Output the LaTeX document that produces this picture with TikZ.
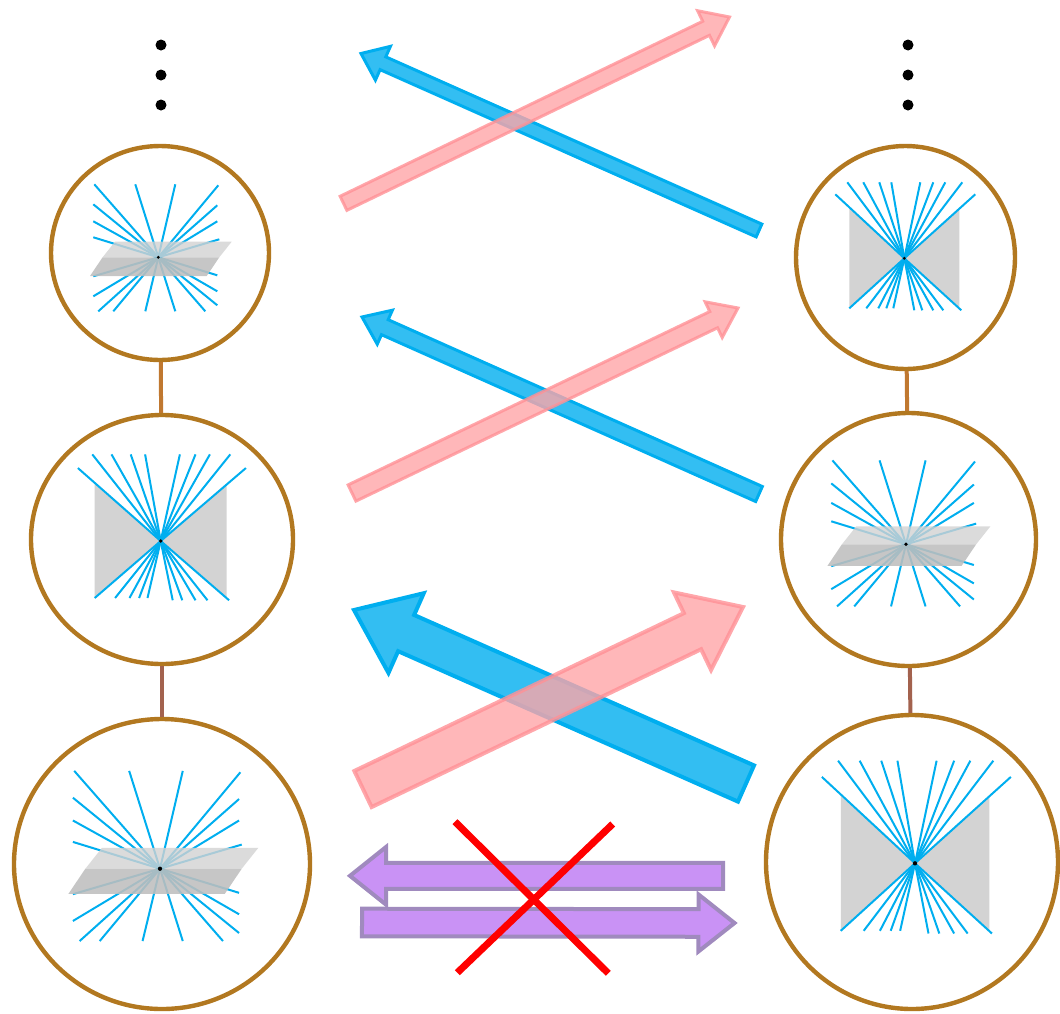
\documentclass[tikz,border=0pt]{standalone}
\usetikzlibrary{calc,shapes.geometric}

\definecolor{ringbrown}{RGB}{178,120,32}
\definecolor{linkorange}{RGB}{192,120,48}
\definecolor{linkred}{RGB}{163,98,78}
\definecolor{raycyan}{RGB}{0,174,239}
\definecolor{bluefill}{RGB}{51,190,242}
\definecolor{bluedraw}{RGB}{0,174,239}
\definecolor{pinkfill}{RGB}{255,165,168}
\definecolor{pinkdraw}{RGB}{255,145,150}
\definecolor{purplefill}{RGB}{201,146,245}
\definecolor{purpledraw}{RGB}{160,138,190}
\definecolor{planelight}{RGB}{210,210,210}
\definecolor{planedark}{RGB}{190,190,190}
\definecolor{bowgray}{RGB}{211,211,211}

% block arrow: style, tail, tip, half shaft width, half head width, head length
\newcommand{\fatarrow}[6]{%
  \path ($(#3)!#6!(#2)$) coordinate (fa-h);
  \filldraw[#1] ($(#2)!#4!90:(#3)$) -- ($(fa-h)!#4!90:(#3)$) -- ($(fa-h)!#5!90:(#3)$)
    -- (#3) -- ($(fa-h)!#5!-90:(#3)$) -- ($(fa-h)!#4!-90:(#3)$) -- ($(#2)!#4!-90:(#3)$) -- cycle;
}

% fan of rays cut by a horizontal plane, centred on the origin
\newcommand{\planeglyph}{%
  \foreach \p in {(-64,-73),(-23,-73),(17,-73),(60,-72),
                  (-65,-53),(-65,-36),(-65,-20),
                  (59,-52),(59,-36),(61,-18),
                  (-65,19),(-65,39),(-60,54),(-45,54),(-13,54),(17,54),(47,54),
                  (59,48),(59,34),(59,18)}
    \draw[ray] (0,0) -- \p;
  \fill[planelight, opacity=0.8] (-43.3,-15.6) -- (73.4,-15.6) -- (61,0) -- (-55.7,0) -- cycle;
  \fill[planedark, opacity=0.88] (-55.7,0) -- (61,0) -- (48.4,18.7) -- (-68.3,18.7) -- cycle;
  \fill[black] (0,0) circle (0.8pt);
}

% fan of rays over a grey bow tie, centred on the origin
\newcommand{\bowglyph}{%
  \fill[bowgray] (-55,-50) -- (0,0) -- (-55,50) -- cycle;
  \fill[bowgray] (55,-50) -- (0,0) -- (55,50) -- cycle;
  \foreach \p in {(-69,-64),(-57,-76),(-41,-76),(-25,-76),(-13,-76),
                  (16,-76),(29,-76),(41,-76),(58,-76),(71,-64),
                  (-55,50),(-38,50),(-26,50),(-18,50),(-11,50),
                  (10,52),(18,52),(29,52),(39,52),(57,52)}
    \draw[ray] (0,0) -- \p;
  \fill[black] (0,0) circle (0.8pt);
}

\tikzset{
  ring/.style={draw=ringbrown, line width=2.2pt, ellipse, inner sep=0pt},
  linkA/.style={draw=linkorange, line width=2pt},
  linkB/.style={draw=linkred, line width=2pt},
  ray/.style={draw=raycyan, line width=1pt},
  blackdot/.style={circle, fill=black, inner sep=0pt, minimum size=5.5pt},
  bluearrow/.style={fill=bluefill, draw=bluedraw, line width=1.5pt, line join=miter},
  pinkarrow/.style={fill=pinkfill, draw=pinkdraw, line width=1.5pt, fill opacity=0.8, draw opacity=0.8, line join=miter},
  purplearrow/.style={fill=purplefill, draw=purpledraw, line width=2pt, line join=miter},
  cross/.style={draw=red, line width=3.5pt}
}

\begin{document}
\begin{tikzpicture}[x=0.5pt,y=-0.5pt]
\useasboundingbox (0,0) rectangle (1060,1013);

% continuation dots
\node[blackdot] (ld1) at (161,45) {};
\node[blackdot] (ld2) at (161,75) {};
\node[blackdot] (ld3) at (161,105) {};
\node[blackdot] (rd1) at (908,45) {};
\node[blackdot] (rd2) at (908,75) {};
\node[blackdot] (rd3) at (908,105) {};

% left column
\node[ring, minimum width=109pt, minimum height=107pt] (L1) at (160,253) {};
\node[ring, minimum width=131pt, minimum height=124.5pt] (L2) at (162,539.5) {};
\node[ring, minimum width=148pt, minimum height=145pt] (L3) at (162,864) {};
% right column
\node[ring, minimum width=109.5pt, minimum height=111.5pt] (R1) at (905.5,257.5) {};
\node[ring, minimum width=127.5pt, minimum height=126.5pt] (R2) at (908.5,539.5) {};
\node[ring, minimum width=146pt, minimum height=147pt] (R3) at (912,862) {};

\draw[linkA] (L1) -- (L2);
\draw[linkB] (L2) -- (L3);
\draw[linkA] (R1) -- (R2);
\draw[linkB] (R2) -- (R3);

% glyphs inside the rings
\begin{scope}[shift={(158.3,257.3)}] \planeglyph \end{scope}
\begin{scope}[shift={(160.7,541)}, xscale=1.2, yscale=1.14] \bowglyph \end{scope}
\begin{scope}[shift={(160,868.7)}, scale=1.34] \planeglyph \end{scope}
\begin{scope}[shift={(904.3,258.3)}] \bowglyph \end{scope}
\begin{scope}[shift={(906,544.3)}, scale=1.15] \planeglyph \end{scope}
\begin{scope}[shift={(915,863.3)}, scale=1.35] \bowglyph \end{scope}

% crossing arrows, top pair
\coordinate (b1t) at (759,230.5);  \coordinate (b1h) at (361,53.5);
\coordinate (p1t) at (343.5,203.3); \coordinate (p1h) at (729.5,17);
\fatarrow{bluearrow}{b1t}{b1h}{3.5pt}{9.25pt}{12pt}
\fatarrow{pinkarrow}{p1t}{p1h}{3.9pt}{9.75pt}{13pt}

% crossing arrows, middle pair
\coordinate (b2t) at (759,494);  \coordinate (b2h) at (362,317);
\coordinate (p2t) at (352,493);  \coordinate (p2h) at (738,308);
\fatarrow{bluearrow}{b2t}{b2h}{4.1pt}{9.3pt}{12.5pt}
\fatarrow{pinkarrow}{p2t}{p2h}{4.5pt}{9.9pt}{13.5pt}

% crossing arrows, bottom pair
\coordinate (b3t) at (746,783.5);  \coordinate (b3h) at (354,610);
\coordinate (p3t) at (363,789);  \coordinate (p3h) at (743,607);
\fatarrow{bluearrow, line width=2pt}{b3t}{b3h}{9.9pt}{21.8pt}{28.5pt}
\fatarrow{pinkarrow, line width=2pt}{p3t}{p3h}{10pt}{21.5pt}{28pt}

% horizontal pair and the cross over it
\coordinate (u1t) at (723,875.8);  \coordinate (u1h) at (350,875.8);
\coordinate (u2t) at (362,922.5);  \coordinate (u2h) at (734.5,923);
\fatarrow{purplearrow}{u1t}{u1h}{6.5pt}{14.4pt}{18pt}
\fatarrow{purplearrow}{u2t}{u2h}{6.9pt}{14.25pt}{18pt}

\coordinate (x1a) at (455,821.7); \coordinate (x1b) at (608.3,973.3);
\coordinate (x2a) at (612.7,824); \coordinate (x2b) at (457.3,972.7);
\draw[cross] (x1a) -- (x1b);
\draw[cross] (x2a) -- (x2b);
\end{tikzpicture}
\end{document}
